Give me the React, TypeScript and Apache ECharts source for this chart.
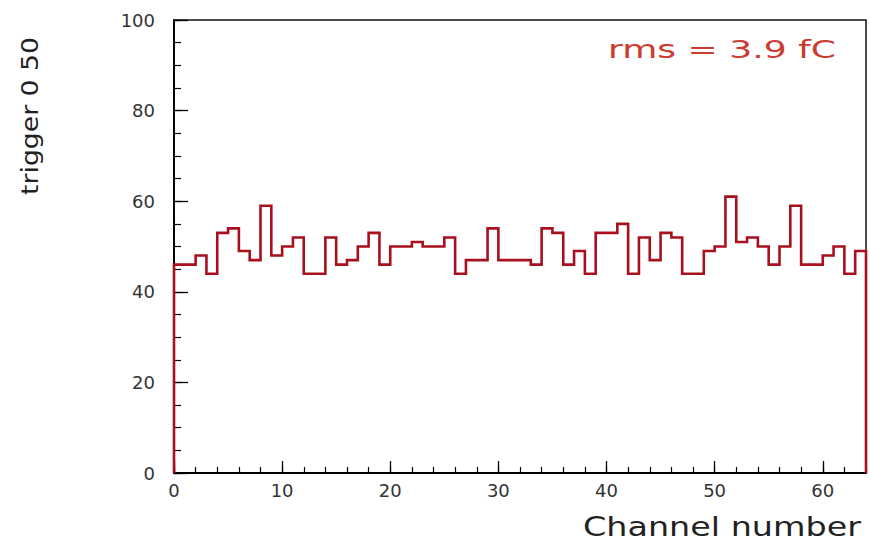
import React, { useEffect, useRef } from 'react';
import * as echarts from 'echarts';

// Histogram contents per channel (64 channels, bin width 1)
const counts: number[] = [
  46, 46, 48, 44, 53, 54, 49, 47, 59, 48,
  50, 52, 44, 44, 52, 46, 47, 50, 53, 46,
  50, 50, 51, 50, 50, 52, 44, 47, 47, 54,
  47, 47, 47, 46, 54, 53, 46, 49, 44, 53,
  53, 55, 44, 52, 47, 53, 52, 44, 44, 49,
  50, 61, 51, 52, 50, 46, 50, 59, 46, 46,
  48, 50, 44, 49,
];
const xRange: number[] = [0, 64];
const yRange: number[] = [0, 100];
const xMajorStep = 10;
const xMinorStep = 2;
const yMajorStep = 20;
const yMinorStep = 5;
const xTitle = 'Channel number';
const yTitle = 'trigger 0 50';
const annotation = 'rms = 3.9 fC';

const FONT = 'DejaVu Sans';

function measure(text: string, size: number): number {
  const ctx = document.createElement('canvas').getContext('2d');
  if (!ctx) return text.length * size * 0.6;
  ctx.font = `${size}px "${FONT}"`;
  return ctx.measureText(text).width;
}

export default function App() {
  const ref = useRef<HTMLDivElement>(null);
  useEffect(() => {
    if (!ref.current) return;
    const chart = echarts.init(ref.current, undefined, { renderer: 'svg' });

    const pts: number[][] = [[0, 0]];
    counts.forEach((v, i) => {
      pts.push([i, v]);
      pts.push([i + 1, v]);
    });
    pts.push([counts.length, 0]);

    const xTitleSize = 27;
    const yTitleSize = 23;
    const annSize = 24;
    const xTitleScale = 278 / measure(xTitle, xTitleSize);
    const yTitleScale = 158 / measure(yTitle, yTitleSize);
    const annScale = 228 / measure(annotation, annSize);

    const tickColor = '#000';
    const labelStyle = { fontSize: 18, color: '#333', fontFamily: FONT };

    chart.setOption({
      animation: false,
      backgroundColor: '#fff',
      grid: {
        left: 174,
        top: 20,
        right: 4,
        bottom: 74,
        show: true,
        borderColor: '#111',
        borderWidth: 1.5,
        backgroundColor: 'transparent',
        containLabel: false,
        outerBoundsMode: 'none',
      },
      xAxis: [
        {
          type: 'value',
          min: xRange[0],
          max: xRange[1],
          interval: xMajorStep,
          position: 'bottom',
          axisLine: { show: true, onZero: false, lineStyle: { color: '#000', width: 2 } },
          axisTick: { show: true, inside: true, length: 12, lineStyle: { color: tickColor, width: 1.3 } },
          axisLabel: { ...labelStyle, margin: 8, showMaxLabel: false },
          splitLine: { show: false },
        },
        {
          type: 'value',
          min: xRange[0],
          max: xRange[1],
          interval: xMinorStep,
          position: 'bottom',
          axisLine: { show: false },
          axisTick: { show: true, inside: true, length: 6, lineStyle: { color: tickColor, width: 1.2 } },
          axisLabel: { show: false },
          splitLine: { show: false },
        },
      ],
      yAxis: [
        {
          type: 'value',
          min: yRange[0],
          max: yRange[1],
          interval: yMajorStep,
          position: 'left',
          axisLine: { show: true, onZero: false, lineStyle: { color: '#000', width: 2 } },
          axisTick: { show: true, inside: true, length: 14, lineStyle: { color: tickColor, width: 1.3 } },
          axisLabel: { ...labelStyle, margin: 19 },
          splitLine: { show: false },
        },
        {
          type: 'value',
          min: yRange[0],
          max: yRange[1],
          interval: yMinorStep,
          position: 'left',
          axisLine: { show: false },
          axisTick: { show: true, inside: true, length: 7, lineStyle: { color: tickColor, width: 1.2 } },
          axisLabel: { show: false },
          splitLine: { show: false },
        },
      ],
      series: [
        {
          type: 'line',
          xAxisIndex: 0,
          yAxisIndex: 0,
          data: pts,
          symbol: 'none',
          clip: false,
          lineStyle: { color: '#a8101e', width: 2.6, join: 'miter' },
          z: 5,
        },
      ],
      graphic: [
        {
          type: 'text',
          x: 608,
          y: 50,
          scaleX: annScale,
          style: {
            text: annotation,
            fontSize: annSize,
            fontFamily: FONT,
            fill: '#cc3a30',
            align: 'left',
            textAlign: 'left',
            verticalAlign: 'middle',
            textVerticalAlign: 'middle',
          },
        },
        {
          type: 'text',
          x: 861,
          y: 527,
          scaleX: xTitleScale,
          style: {
            text: xTitle,
            fontSize: xTitleSize,
            fontFamily: FONT,
            fill: '#222',
            align: 'right',
            textAlign: 'right',
            verticalAlign: 'middle',
            textVerticalAlign: 'middle',
          },
        },
        {
          type: 'text',
          x: 30,
          y: 116,
          rotation: Math.PI / 2,
          scaleX: yTitleScale,
          style: {
            text: yTitle,
            fontSize: yTitleSize,
            fontFamily: FONT,
            fill: '#222',
            align: 'center',
            textAlign: 'center',
            verticalAlign: 'middle',
            textVerticalAlign: 'middle',
          },
        },
      ],
    });
    return () => chart.dispose();
  }, []);
  return (
    <div
      ref={ref}
      style={{ position: 'absolute', left: 0, top: 0, width: 870, height: 547 }}
    />
  );
}
